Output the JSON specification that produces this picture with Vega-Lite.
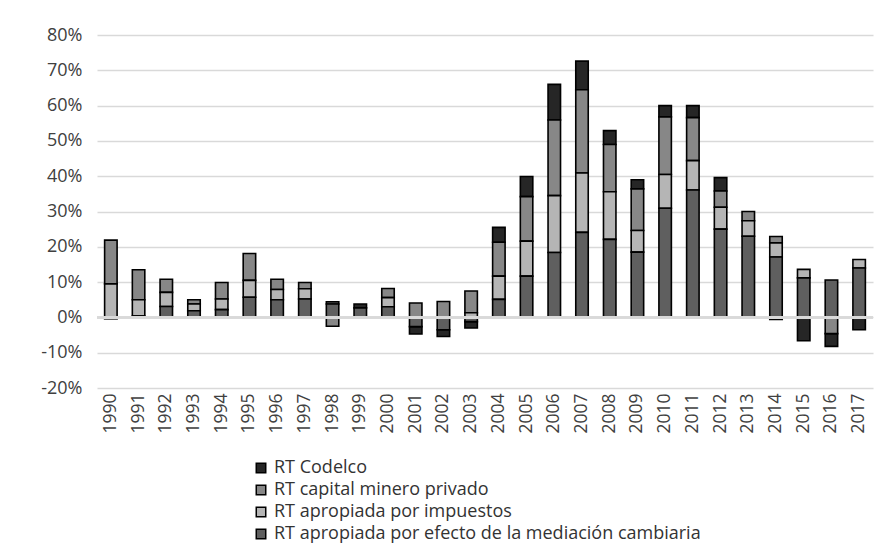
{
  "$schema": "https://vega.github.io/schema/vega-lite/v6.json",
  "autosize": {"type": "none"},
  "padding": {"left": 97, "top": 35, "right": 14, "bottom": 159},
  "width": 776,
  "height": 353,
  "background": "#ffffff",
  "config": {
    "font": "Open Sans",
    "view": {"stroke": null},
    "axis": {"labelColor": "#404040", "labelFont": "Open Sans"},
    "axisY": {"values": [-20, -10, 0, 10, 20, 30, 40, 50, 60, 70, 80], "labelExpr": "datum.value + '%'", "domain": false, "ticks": false, "labelPadding": 15, "labelFontSize": 18, "gridColor": "#d9d9d9", "gridWidth": 1.5, "title": null, "labelOverlap": false},
    "legend": {"labelFont": "Open Sans"}
  },
  "data": {
    "values": [
      {"anio": "1990", "cod": 0, "priv": 12.4, "imp": 9.5, "med": -0.4},
      {"anio": "1991", "cod": 0, "priv": 8.5, "imp": 4.6, "med": 0.4},
      {"anio": "1992", "cod": 0, "priv": 3.7, "imp": 4.0, "med": 3.1},
      {"anio": "1993", "cod": 0, "priv": 1.2, "imp": 1.9, "med": 1.9},
      {"anio": "1994", "cod": 0, "priv": 4.7, "imp": 3.0, "med": 2.2},
      {"anio": "1995", "cod": 0, "priv": 7.6, "imp": 4.8, "med": 5.7},
      {"anio": "1996", "cod": 0, "priv": 2.9, "imp": 2.9, "med": 5.0},
      {"anio": "1997", "cod": 0, "priv": 1.8, "imp": 2.9, "med": 5.2},
      {"anio": "1998", "cod": 0, "priv": -2.5, "imp": 0.6, "med": 3.8},
      {"anio": "1999", "cod": 1.1, "priv": 0, "imp": 0, "med": 2.7},
      {"anio": "2000", "cod": 0, "priv": 2.6, "imp": 2.6, "med": 3.0},
      {"anio": "2001", "cod": -2.1, "priv": 4.1, "imp": 0, "med": -2.6},
      {"anio": "2002", "cod": -1.9, "priv": 4.5, "imp": 0, "med": -3.5},
      {"anio": "2003", "cod": -1.8, "priv": 6.2, "imp": 1.3, "med": -1.2},
      {"anio": "2004", "cod": 4.2, "priv": 9.6, "imp": 6.6, "med": 5.1},
      {"anio": "2005", "cod": 5.7, "priv": 12.6, "imp": 9.9, "med": 11.7},
      {"anio": "2006", "cod": 10.1, "priv": 21.4, "imp": 16.1, "med": 18.4},
      {"anio": "2007", "cod": 8.1, "priv": 23.6, "imp": 16.8, "med": 24.1},
      {"anio": "2008", "cod": 3.9, "priv": 13.4, "imp": 13.5, "med": 22.1},
      {"anio": "2009", "cod": 2.6, "priv": 11.8, "imp": 6.1, "med": 18.5},
      {"anio": "2010", "cod": 3.2, "priv": 16.3, "imp": 9.6, "med": 30.9},
      {"anio": "2011", "cod": 3.4, "priv": 12.2, "imp": 8.3, "med": 36.1},
      {"anio": "2012", "cod": 3.8, "priv": 4.6, "imp": 6.2, "med": 25.0},
      {"anio": "2013", "cod": 0, "priv": 2.6, "imp": 4.4, "med": 23.0},
      {"anio": "2014", "cod": -0.6, "priv": 1.8, "imp": 4.0, "med": 17.1},
      {"anio": "2015", "cod": -6.6, "priv": 0, "imp": 2.4, "med": 11.2},
      {"anio": "2016", "cod": -3.6, "priv": -4.6, "imp": 0, "med": 10.6},
      {"anio": "2017", "cod": -3.5, "priv": 0, "imp": 2.4, "med": 14.0}
    ]
  },
  "layer": [
    {
      "transform": [
        {"fold": ["cod", "priv", "imp", "med"], "as": ["k", "v"]},
        {"filter": "datum.v != 0"},
        {"calculate": "indexof(['cod','priv','imp','med'], datum.k)", "as": "idx"},
        {"calculate": "{'cod':'RT Codelco','priv':'RT capital minero privado','imp':'RT apropiada por impuestos','med':'RT apropiada por efecto de la mediación cambiaria'}[datum.k]", "as": "serie"}
      ],
      "mark": {"type": "bar", "stroke": "#000000", "strokeWidth": 1.6, "width": {"band": 1}},
      "encoding": {
        "x": {
          "field": "anio", "type": "ordinal",
          "scale": {"paddingInner": 0.55, "paddingOuter": 0.275},
          "axis": {"title": null, "labelAngle": -90, "domain": false, "ticks": false, "labelPadding": 5, "labelFontSize": 17.5, "labelBaseline": "middle"}
        },
        "y": {
          "field": "v", "type": "quantitative", "stack": "zero",
          "scale": {"domain": [-20, 80], "nice": false, "zero": false}
        },
        "color": {
          "field": "serie", "type": "nominal",
          "scale": {
            "domain": ["RT Codelco", "RT capital minero privado", "RT apropiada por impuestos", "RT apropiada por efecto de la mediación cambiaria"],
            "range": ["#262626", "#878787", "#b5b5b5", "#5f5f5f"]
          },
          "legend": {
            "title": null, "orient": "none", "legendX": 155, "legendY": 424,
            "symbolType": "square", "symbolSize": 90, "symbolStrokeColor": "#000000", "symbolStrokeWidth": 1.5,
            "labelFontSize": 18, "labelColor": "#333333", "labelOffset": 4, "rowPadding": 4, "labelLimit": 0
          }
        },
        "order": {"field": "idx", "type": "quantitative", "sort": "descending"}
      }
    },
    {
      "mark": {"type": "rule", "color": "#d9d9d9", "strokeWidth": 2},
      "encoding": {"y": {"datum": 0, "type": "quantitative"}}
    }
  ]
}
